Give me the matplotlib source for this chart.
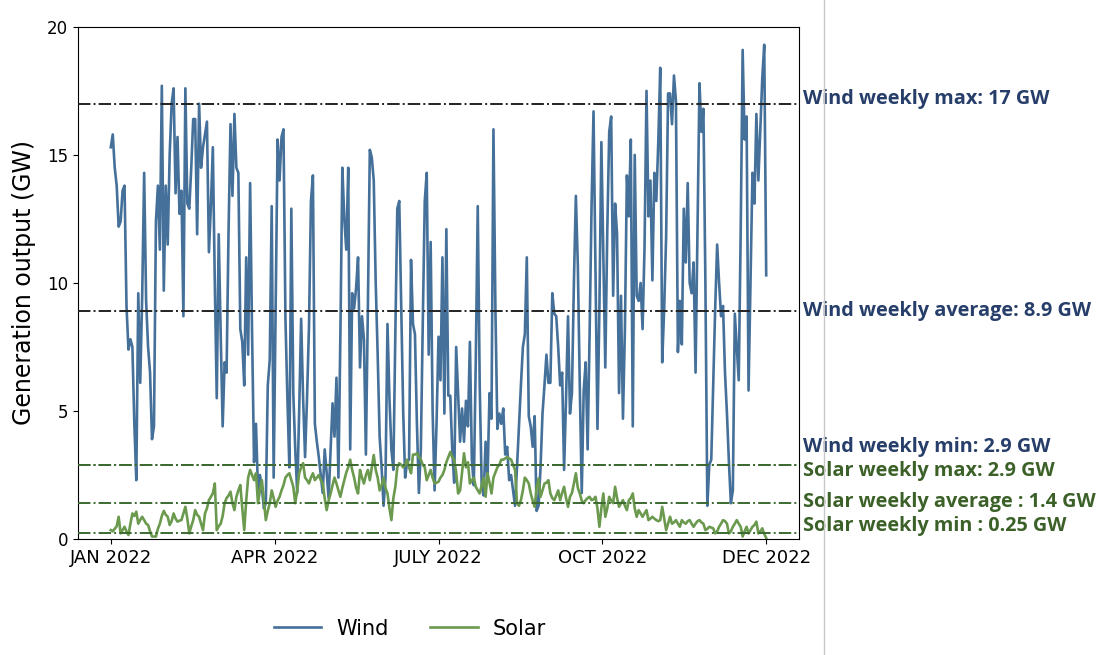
import matplotlib
matplotlib.use("Agg")
import matplotlib.pyplot as plt
from matplotlib.lines import Line2D
import numpy as np

wind = [
15.3,15.8,14.5,13.8,12.2,12.4,13.6,13.8,9.1,7.4,7.8,7.5,4.5,2.3,9.6,6.1,9.5,14.3,9.3,7.5,
6.5,3.9,4.4,12.4,13.8,11.3,17.7,9.7,13.8,11.5,15.0,17.0,17.6,13.5,15.7,12.7,13.6,8.7,17.6,13.1,
12.9,14.5,16.4,16.4,11.9,17.0,14.5,15.3,15.8,16.3,11.2,13.0,15.3,10.0,5.5,11.9,8.0,4.4,6.9,6.5,
12.0,16.2,13.4,16.6,14.5,14.3,8.2,7.7,6.0,11.0,7.2,13.9,8.0,3.0,4.5,1.9,2.5,2.0,1.2,1.4,
6.0,7.0,13.0,2.4,9.0,15.6,14.0,15.7,16.0,8.6,5.5,2.8,12.9,5.7,3.5,1.8,5.0,8.6,5.5,3.2,
5.5,8.3,13.2,14.2,4.5,3.8,3.2,2.5,1.8,3.5,2.6,1.6,3.5,5.3,4.0,6.3,2.4,8.0,14.5,12.5,
11.3,14.5,3.5,9.6,9.0,9.8,11.0,6.7,8.7,7.8,3.3,9.0,15.2,14.9,14.0,10.0,7.2,4.0,2.8,1.3,
2.4,8.4,5.5,3.5,2.7,8.0,12.9,13.2,9.0,5.0,2.4,3.0,3.1,10.9,8.4,8.0,4.5,1.8,3.5,8.5,
13.2,14.3,7.2,11.6,5.0,1.9,4.5,7.9,6.2,11.0,4.9,12.1,5.6,5.6,3.5,2.2,7.5,5.7,3.8,5.1,
3.8,5.4,4.4,7.7,3.1,2.1,7.0,13.0,6.0,2.1,1.7,3.8,2.4,5.7,4.7,16.0,9.0,4.3,4.9,4.5,
5.1,3.3,3.6,2.3,2.5,1.9,1.3,2.8,4.4,6.0,7.5,8.0,11.0,4.8,4.4,3.6,4.8,1.1,1.3,2.8,
4.9,6.0,7.2,6.1,6.1,9.6,8.8,8.7,7.5,6.0,6.5,2.7,5.5,8.7,4.9,5.7,10.0,13.4,10.7,6.0,
1.8,5.8,6.9,3.5,8.0,13.0,16.7,10.4,4.3,9.0,15.5,11.0,6.7,12.0,15.9,16.5,9.5,13.1,11.9,5.7,
9.5,4.7,8.2,14.2,12.6,15.6,4.4,15.0,9.5,9.3,10.0,8.2,11.4,17.5,12.6,14.0,10.1,14.3,13.2,15.5,
18.4,6.9,9.0,11.8,17.4,17.4,16.2,18.1,17.1,7.3,9.3,7.6,12.9,10.8,13.9,10.0,9.6,10.8,6.5,12.0,
17.8,15.9,16.8,10.1,1.3,2.9,3.1,6.0,9.0,11.5,10.0,8.7,9.1,6.5,4.9,3.0,1.4,1.9,8.8,7.5,
6.2,12.0,19.1,15.6,16.5,5.8,10.0,14.3,13.1,16.6,14.0,16.0,18.0,19.3,10.3]

solar = [
0.35,0.3,0.4,0.5,0.87,0.22,0.35,0.48,0.3,0.16,0.6,1.0,0.9,1.07,0.6,0.75,0.87,0.74,0.6,0.55,
0.3,0.1,0.1,0.1,0.4,0.6,0.9,1.1,0.95,0.87,0.55,0.7,1.0,0.8,0.68,0.72,0.74,1.0,1.26,0.8,
0.22,0.5,0.74,1.13,0.95,0.87,0.6,0.35,1.0,1.2,1.52,1.65,1.78,2.17,0.35,0.5,0.6,0.9,1.4,1.6,
1.7,1.85,1.4,1.13,1.65,1.9,2.11,1.2,0.35,1.5,2.4,2.7,2.5,2.3,2.57,1.4,1.9,2.3,1.5,0.74,
1.1,1.4,1.9,1.6,1.26,1.5,1.65,1.9,2.1,2.4,2.5,2.57,2.3,2.04,1.4,1.9,2.57,2.8,2.96,2.4,
2.3,2.17,2.4,2.57,2.3,2.4,2.5,2.3,2.17,1.6,1.13,1.5,1.78,2.1,2.4,2.17,1.9,1.65,2.0,2.3,
2.6,2.8,3.1,2.7,2.4,2.0,1.78,2.7,2.4,2.17,2.5,2.7,2.3,2.8,3.28,2.7,2.4,1.9,2.1,2.4,
2.0,1.78,1.2,0.74,1.6,2.04,2.8,2.96,2.9,2.8,2.9,3.1,2.8,2.57,3.3,3.3,3.35,3.2,3.1,2.9,
2.8,2.3,2.5,2.7,2.4,2.17,2.2,2.24,2.4,2.5,2.7,3.0,3.2,3.4,3.2,3.1,2.6,1.78,1.9,2.6,
3.35,2.8,3.0,2.17,2.3,2.4,2.04,1.9,1.78,2.1,2.4,1.65,2.57,2.2,1.78,2.4,2.6,2.8,2.9,3.1,
3.1,3.15,3.2,3.15,3.1,2.9,2.7,1.4,1.3,1.52,1.9,2.4,2.3,2.17,1.78,1.5,1.26,2.0,2.37,1.65,
1.9,2.17,2.2,2.3,1.78,1.6,1.52,1.7,1.9,1.52,1.8,2.04,1.6,1.26,1.65,1.8,2.17,2.57,2.0,1.78,
1.5,1.4,1.52,1.6,1.65,1.52,1.55,1.65,1.2,0.48,1.2,1.78,0.87,1.2,1.65,1.5,1.4,2.04,1.6,1.26,
1.4,1.52,1.3,1.13,1.52,1.6,1.78,1.2,0.87,1.13,1.0,0.87,1.0,1.13,0.74,0.8,0.87,0.8,0.74,0.7,
0.74,1.26,0.8,0.35,0.6,0.87,0.6,0.65,0.74,0.6,0.48,0.74,0.65,0.6,0.7,0.74,0.6,0.48,0.6,0.7,
0.74,0.65,0.6,0.35,0.4,0.48,0.45,0.42,0.22,0.3,0.48,0.6,0.74,0.7,0.6,0.22,0.3,0.48,0.6,0.74,
0.6,0.48,0.1,0.3,0.48,0.22,0.35,0.48,0.55,0.68,0.22,0.3,0.42,0.2,0.04]

tick_labels = ["JAN 2022", "APR 2022", "JULY 2022", "OCT 2022", "DEC 2022"]

ref_values = [17, 8.9, 2.9, 2.9, 1.4, 0.25]
ref_labels = ["Wind weekly max: 17 GW", "Wind weekly average: 8.9 GW",
              "Wind weekly min: 2.9 GW", "Solar weekly max: 2.9 GW",
              "Solar weekly average : 1.4 GW", "Solar weekly min : 0.25 GW"]
label_y = [17.2, 8.9, 3.6, 2.65, 1.45, 0.5]

WIND_C = "#44709a"
SOLAR_C = "#6b9a4f"
WIND_TXT = "#263e69"
SOLAR_TXT = "#3c6128"
LINE_BLACK = "#222222"
LINE_GREEN = "#3c6a32"

fig = plt.figure(figsize=(10.99, 6.55), dpi=100)
ax = fig.add_axes([0.071, 0.177, 0.656, 0.782])

x = np.arange(len(wind))
ax.plot(x, wind, color=WIND_C, lw=1.9, label="Wind")
ax.plot(np.arange(len(solar)), solar, color=SOLAR_C, lw=1.9, label="Solar")

line_colors = [LINE_BLACK, LINE_BLACK, LINE_GREEN, LINE_GREEN, LINE_GREEN, LINE_GREEN]
txt_colors = [WIND_TXT, WIND_TXT, WIND_TXT, SOLAR_TXT, SOLAR_TXT, SOLAR_TXT]
for v, c in zip(ref_values, line_colors):
    ax.axhline(v, color=c, lw=1.4, ls="-.", zorder=3)

for lab, ly, c in zip(ref_labels, label_y, txt_colors):
    ax.text(1.006, ly, lab, transform=ax.get_yaxis_transform(), color=c,
            fontsize=14.3, fontweight="bold", family="Open Sans",
            va="center", ha="left", clip_on=False)

ax.set_ylim(0, 20)
ax.set_yticks([0, 5, 10, 15, 20])
ax.set_xticks(np.linspace(0, len(wind) - 1, 5))
ax.set_xticklabels(tick_labels)
ax.tick_params(axis="y", labelsize=12)
ax.tick_params(axis="x", labelsize=13)
ax.set_ylabel("Generation output (GW)", fontsize=17)
ax.yaxis.set_label_coords(-0.058, 0.5)

ax.legend(loc="center", bbox_to_anchor=(0.46, -0.175), ncol=2, frameon=False,
          fontsize=15, handlelength=2.3, handletextpad=0.7, columnspacing=2.0)

fig.add_artist(Line2D([824 / 1099, 824 / 1099], [0, 1], color="#c8c8c8", lw=1.0,
                      transform=fig.transFigure))

fig.savefig("out.png", dpi=100)
